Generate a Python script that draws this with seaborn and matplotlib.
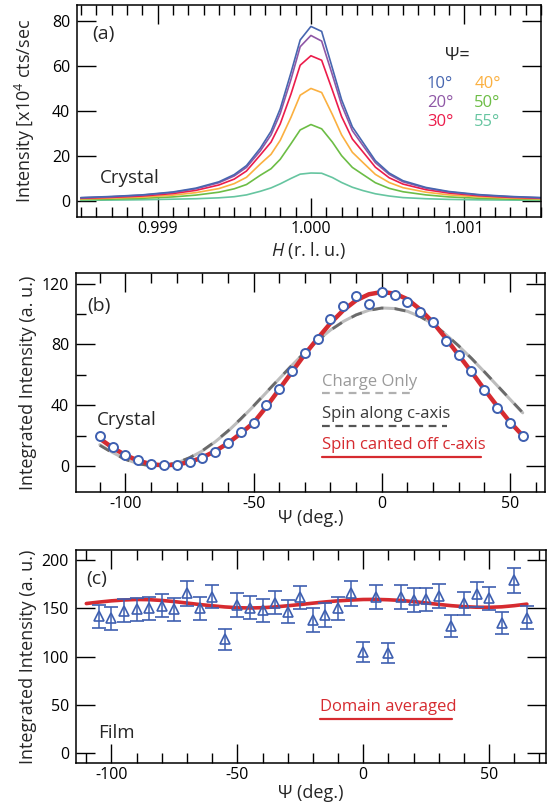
import matplotlib
matplotlib.use("Agg")
import numpy as np
import pandas as pd
import seaborn as sns
from matplotlib import pyplot as plt
from matplotlib.ticker import MultipleLocator, FormatStrFormatter

# ---- panel (a): H scans at several azimuths ----
h_rlu = [0.99850, 0.99870, 0.99890, 0.99910, 0.99925, 0.99940, 0.99950, 0.99958,
         0.99967, 0.99974, 0.99980, 0.99987, 0.99993, 1.00000, 1.00007, 1.00014,
         1.00020, 1.00027, 1.00034, 1.00042, 1.00051, 1.00060, 1.00075, 1.00090,
         1.00110, 1.00130, 1.00150]
scan_10 = [1.6, 2.1, 2.8, 4.1, 5.8, 8.6, 11.8, 15.8, 23.5, 31, 41, 57, 71.5, 77.5, 75.3,
           59, 45, 33, 26, 18, 12.5, 9.1, 6.1, 4.3, 2.9, 2.1, 1.6]
scan_20 = [1.5, 2.0, 2.7, 3.9, 5.5, 8.2, 11.2, 15.0, 22.3, 29.4, 38.9, 54.0, 68.5, 73.5, 71.0,
           56.0, 42.7, 31.3, 24.6, 17.1, 11.9, 8.6, 5.8, 4.1, 2.7, 2.0, 1.5]
scan_30 = [1.3, 1.7, 2.3, 3.4, 4.8, 7.2, 9.8, 13.4, 20.5, 26.2, 34.3, 47.5, 60.3, 64.5, 62.5,
           49.2, 37.5, 27.6, 21.8, 15.1, 10.4, 7.6, 5.1, 3.6, 2.4, 1.7, 1.3]
scan_40 = [1.0, 1.4, 1.8, 2.7, 3.8, 5.6, 7.8, 10.6, 16.5, 20.8, 27.0, 37.2, 47.0, 50.0, 48.2,
           38.4, 29.4, 21.7, 17.1, 11.9, 8.3, 6.0, 4.0, 2.8, 1.9, 1.4, 1.0]
scan_50 = [0.7, 0.9, 1.3, 1.9, 2.7, 4.0, 5.5, 7.4, 11.5, 14.4, 18.6, 25.5, 31.6, 34.0, 32.1,
           26.2, 20.2, 15.0, 11.8, 8.2, 5.7, 4.2, 2.8, 1.9, 1.3, 0.9, 0.7]
scan_55 = [0.4, 0.5, 0.65, 0.9, 1.1, 1.5, 2.0, 2.8, 4.4, 5.9, 7.7, 10.1, 12.0, 12.5, 12.4,
           10.5, 8.3, 6.2, 4.7, 3.3, 2.3, 1.6, 1.1, 0.8, 0.6, 0.5, 0.4]
scan_labels = ["10°", "20°", "30°", "40°", "50°", "55°"]
scan_colors = ["#4766b0", "#8f57a6", "#ec1c4b", "#fbb040", "#6cbd45", "#66c5a0"]

# ---- panel (b): crystal azimuthal dependence ----
psi_b = [-110, -105, -100, -95, -90, -85, -80, -75, -70, -65, -60, -55, -50, -45, -40, -35, -30,
         -25, -20, -15, -10, -5, 0, 5, 10, 15, 20, 25, 30, 35, 40, 45, 50, 55]
crystal_int = [19.5, 12.5, 7.5, 3.7, 1.3, 0.4, 0.7, 2.4, 5.0, 9.2, 14.9, 22.1, 28.0, 39.9, 51.0,
               62.3, 74.1, 83.8, 96.7, 105.3, 111.6, 106.8, 114.5, 112.5, 107.9, 101.3, 95.0,
               82.5, 73.0, 62.7, 50.0, 38.4, 28.0, 19.7]
charge_only = [14.0, 8.9, 4.5, 1.5, 0.2, 0.3, 2.0, 5.3, 9.9, 15.9, 22.9, 30.9, 39.4, 48.4, 57.4,
               66.3, 74.8, 82.6, 89.5, 95.1, 99.5, 102.5, 104.0, 103.6, 101.8, 98.3, 93.5, 86.5,
               79.0, 70.8, 62.0, 53.0, 44.0, 35.0]
spin_along = [13.6, 8.6, 4.3, 1.4, 0.2, 0.4, 2.1, 5.5, 10.1, 16.1, 23.1, 31.1, 39.6, 48.6, 57.5,
              66.4, 74.8, 82.5, 89.4, 95.0, 99.4, 102.4, 103.9, 103.6, 101.8, 98.3, 93.5, 86.6,
              79.1, 70.9, 62.1, 53.1, 44.1, 35.1]
spin_canted = [18.0, 12.0, 7.2, 3.5, 1.2, 0.4, 0.9, 2.6, 5.6, 9.8, 15.0, 21.5, 28.5, 39.0, 50.5,
               62.0, 73.5, 84.0, 94.0, 102.5, 109.0, 113.0, 114.5, 113.5, 109.8, 103.0, 94.5,
               84.0, 73.0, 62.0, 50.5, 39.5, 29.0, 20.0]

# ---- panel (c): film azimuthal dependence ----
psi_c = [-105, -100, -95, -90, -85, -80, -75, -70, -65, -60, -55, -50, -45, -40, -35, -30, -25,
         -20, -15, -10, -5, 0, 5, 10, 15, 20, 25, 30, 35, 40, 45, 50, 55, 60, 65]
film_int = [142, 139.6, 147.5, 148.9, 149.9, 152.7, 148.9, 165.4, 149.9, 162, 117.9, 153.4,
            150.6, 148.2, 155.8, 146.5, 161.3, 138, 143.2, 149.9, 165.4, 105, 162, 104, 162,
            158.6, 159.3, 162.8, 131.8, 155.1, 164.4, 160.3, 135.1, 179, 140.5]
film_err = [12, 12, 12, 12, 12, 12, 12, 12.5, 12, 12, 10.5, 12, 12, 12, 12, 12, 12, 12, 12, 12,
            12.5, 10.5, 12.5, 10.5, 12.5, 12.5, 12, 12.5, 11.5, 12, 12.5, 12, 11.5, 13, 12]
psi_fit_c = [-110, -105, -100, -95, -90, -85, -80, -75, -70, -65, -60, -55, -50, -45, -40, -35,
             -30, -25, -20, -15, -10, -5, 0, 5, 10, 15, 20, 25, 30, 35, 40, 45, 50, 55, 60, 65]
domain_avg = [155, 156.5, 157.8, 158.7, 159.2, 159, 158.2, 157, 155.5, 154, 152.7, 151.5, 150.7,
              150.4, 150.7, 151.5, 152.7, 154, 155.4, 156.7, 157.8, 158.6, 159.2, 159.3, 158.9,
              158.2, 157, 155.6, 154.1, 152.8, 151.8, 151.2, 151.1, 151.6, 152.8, 154.4]

RED = "#d62b30"
BLUE = "#3e5fb0"

sns.set_theme(style="ticks")
plt.rcParams['font.family'] = ['Open Sans', 'DejaVu Sans']
plt.rcParams['mathtext.fontset'] = 'custom'
plt.rcParams['mathtext.rm'] = 'Open Sans'
plt.rcParams['mathtext.it'] = 'Open Sans:italic'
plt.rcParams['axes.unicode_minus'] = False
plt.rcParams['axes.edgecolor'] = 'black'
plt.rcParams['axes.linewidth'] = 1.1

W, H = 554, 810
fig = plt.figure(figsize=(W / 100, H / 100), dpi=100)


def add_axes(left, right, top, bottom):
    return fig.add_axes([left / W, 1 - bottom / H, (right - left) / W, (bottom - top) / H])


def style_axis(ax):
    ax.tick_params(which='both', direction='in', top=True, right=True, colors='black',
                   labelsize=11.5, width=1.0)
    ax.tick_params(which='major', length=14)
    ax.tick_params(which='minor', length=7)
    ax.tick_params(axis='x', pad=3)
    ax.tick_params(axis='y', pad=5)


def place_labels(ax, xl_top, yl_right):
    bb = ax.get_position()
    ax.xaxis.set_label_coords(bb.x0 + bb.width / 2, 1 - xl_top / H, transform=fig.transFigure)
    ax.yaxis.set_label_coords(yl_right / W, bb.y0 + bb.height / 2, transform=fig.transFigure)


# ---------- (a) ----------
ax_a = add_axes(77, 541, 5, 217)
scan_df = pd.DataFrame({"H": h_rlu * 6,
                        "I": scan_10 + scan_20 + scan_30 + scan_40 + scan_50 + scan_55,
                        "psi": sum([[lab] * len(h_rlu) for lab in scan_labels], [])})
for lab, col in reversed(list(zip(scan_labels, scan_colors))):
    sub = scan_df[scan_df["psi"] == lab]
    sns.lineplot(x=sub["H"], y=sub["I"], ax=ax_a, color=col, lw=1.2, sort=False)
ax_a.set_xlim(0.998475, 1.0015)
ax_a.set_ylim(-7, 87)
ax_a.xaxis.set_major_locator(MultipleLocator(0.001))
ax_a.xaxis.set_minor_locator(MultipleLocator(0.0001))
ax_a.xaxis.set_major_formatter(FormatStrFormatter('%.3f'))
ax_a.yaxis.set_major_locator(MultipleLocator(20))
style_axis(ax_a)
ax_a.set_xlabel("$H$ (r. l. u.)", fontsize=13)
ax_a.set_ylabel("Intensity [x10$^4$ cts/sec", fontsize=13)
place_labels(ax_a, 240, 37)
ax_a.text(0.032, 0.838, "(a)", transform=ax_a.transAxes, fontsize=14)
ax_a.text(0.05, 0.162, "Crystal", transform=ax_a.transAxes, fontsize=13.5)
ax_a.text(0.793, 0.741, "Ψ=", transform=ax_a.transAxes, fontsize=13)
for i, (lab, col) in enumerate(zip(scan_labels, scan_colors)):
    xx = 0.754 if i < 3 else 0.856
    yy = [0.607, 0.517, 0.429][i % 3]
    ax_a.text(xx, yy, lab, transform=ax_a.transAxes, fontsize=12, color=col)

# ---------- (b) ----------
ax_b = add_axes(76, 545, 273.3, 491.7)
sns.lineplot(x=psi_b, y=charge_only, ax=ax_b, color="#bdbdbd", lw=2.2, sort=False)
sns.lineplot(x=psi_b, y=spin_along, ax=ax_b, color="#6a6a6a", lw=2.0, sort=False,
             dashes=False, linestyle=(0, (4, 4)))
sns.lineplot(x=psi_b, y=spin_canted, ax=ax_b, color=RED, lw=3.2, sort=False)
sns.scatterplot(x=psi_b, y=crystal_int, ax=ax_b, marker='o', s=42, facecolor='white',
                edgecolor=BLUE, linewidth=1.4, zorder=5)
ax_b.set_xlim(-119.3, 63.7)
ax_b.set_ylim(-16.9, 126.8)
ax_b.xaxis.set_major_locator(MultipleLocator(50))
ax_b.xaxis.set_minor_locator(MultipleLocator(10))
ax_b.yaxis.set_major_locator(MultipleLocator(40))
ax_b.yaxis.set_minor_locator(MultipleLocator(20))
style_axis(ax_b)
ax_b.set_xlabel("Ψ (deg.)", fontsize=13)
ax_b.set_ylabel("Integrated Intensity (a. u.)", fontsize=13)
place_labels(ax_b, 509, 37)
ax_b.text(0.024, 0.829, "(b)", transform=ax_b.transAxes, fontsize=14)
ax_b.text(0.044, 0.305, "Crystal", transform=ax_b.transAxes, fontsize=13.5)
legend_items = [("Charge Only", "#9a9a9a", "#b0b0b0", (0, (3.5, 2.5)), 0.485, 0.451, 0.712),
                ("Spin along c-axis", "#3a3a3a", "#555555", (0, (3.5, 2.5)), 0.336, 0.302, 0.791),
                ("Spin canted off c-axis", RED, RED, '-', 0.194, 0.158, 0.864)]
for txt, tcol, lcol, ls, ty, ly, lx1 in legend_items:
    ax_b.text(0.524, ty, txt, transform=ax_b.transAxes, fontsize=12, color=tcol)
    ax_b.plot([0.524, lx1], [ly, ly], transform=ax_b.transAxes, color=lcol, lw=1.6,
              linestyle=ls)

# ---------- (c) ----------
ax_c = add_axes(76, 546, 550, 763.3)
sns.lineplot(x=psi_fit_c, y=domain_avg, ax=ax_c, color=RED, lw=2.6, sort=False)
ax_c.errorbar(psi_c, film_int, yerr=film_err, fmt='^', ms=7, mfc='none', mec=BLUE, mew=1.2,
              ecolor=BLUE, elinewidth=1.1, capsize=5, capthick=1.1, zorder=5)
ax_c.set_xlim(-114.1, 72.6)
ax_c.set_ylim(-10.3, 210.4)
ax_c.xaxis.set_major_locator(MultipleLocator(50))
ax_c.xaxis.set_minor_locator(MultipleLocator(10))
ax_c.yaxis.set_major_locator(MultipleLocator(50))
style_axis(ax_c)
ax_c.set_xlabel("Ψ (deg.)", fontsize=13)
ax_c.set_ylabel("Integrated Intensity (a. u.)", fontsize=13)
place_labels(ax_c, 784, 37)
ax_c.text(0.022, 0.841, "(c)", transform=ax_c.transAxes, fontsize=14)
ax_c.text(0.048, 0.117, "Film", transform=ax_c.transAxes, fontsize=13.5)
ax_c.text(0.52, 0.247, "Domain averaged", transform=ax_c.transAxes, fontsize=12, color=RED)
ax_c.plot([0.52, 0.799], [0.206, 0.206], transform=ax_c.transAxes, color=RED, lw=1.6)

fig.savefig("out.png", dpi=100)
